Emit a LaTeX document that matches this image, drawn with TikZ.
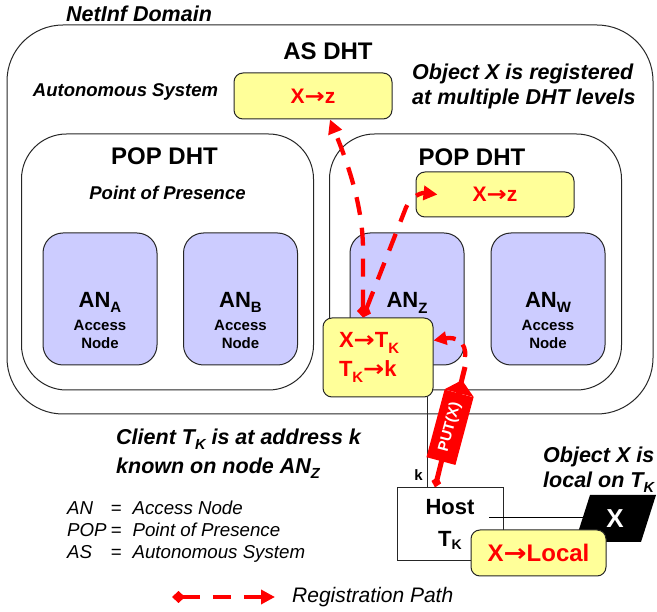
\documentclass[tikz,border=0pt]{standalone}
\usepackage{fontspec}
\setmainfont{Liberation Sans}
\newfontfamily\symfont{DejaVu Sans}
\usetikzlibrary{arrows.meta, positioning, calc}
\definecolor{regred}{HTML}{FF0000}
\definecolor{dhtyellow}{HTML}{FFFF99}
\definecolor{anlilac}{HTML}{CCCCFF}
\definecolor{frameline}{HTML}{262626}
\newcommand{\lowsub}[1]{\raisebox{-0.25em}{\scalebox{0.68}{#1}}}
\newcommand{\mapto}{\scalebox{1.15}[1]{\symfont\bfseries →}}

\begin{document}
\begin{tikzpicture}[x=1pt, y=-1pt,
  domainframe/.style={draw=frameline, line width=1pt, rounded corners=56pt, inner sep=0pt, minimum width=646pt, minimum height=389pt},
  popframe/.style={draw=frameline, line width=1pt, rounded corners=45pt, inner sep=0pt, minimum width=292pt, minimum height=256pt},
  anbox/.style={draw=frameline, fill=anlilac, line width=1pt, rounded corners=20pt, inner sep=0pt, minimum width=114pt, minimum height=132pt},
  anlabel/.style={align=center, inner sep=0pt, font=\bfseries\fontsize{15}{18}\selectfont},
  dhtentry/.style={draw=frameline, fill=dhtyellow, line width=1pt, rounded corners=9pt, inner sep=0pt, text=regred, font=\bfseries\fontsize{21}{29}\selectfont},
  title/.style={font=\bfseries\fontsize{24}{28}\selectfont, inner sep=0pt},
  remark/.style={font=\bfseries\itshape\fontsize{21.5}{25}\selectfont, align=left, inner sep=0pt},
  subtitle/.style={font=\bfseries\itshape\fontsize{18.5}{22}\selectfont, inner sep=0pt},
  legtext/.style={font=\itshape\fontsize{18.7}{22}\selectfont, inner sep=0pt},
  regline/.style={regred, line width=4.3pt, dash pattern=on 18pt off 13pt},
  regpath/.style={regline, {Diamond[length=13pt,width=12pt]}-{Triangle[length=14pt,width=14pt]}},
  regarc/.style={regline, dash pattern=on 13pt off 9pt, -{Triangle[length=13pt,width=13pt]}},
  putbox/.style={fill=regred, text=white, font=\bfseries\fontsize{15}{15}\selectfont, inner sep=0pt, minimum width=70pt, minimum height=30pt, rotate=75},
]
  \useasboundingbox (0,0) rectangle (657,612);

  % Domains
  \node[domainframe] (domain) at (330,219.5) {};
  \node[popframe] (popL) at (167.5,262) {};
  \node[popframe] (popR) at (475.5,262) {};

  % Access nodes
  \foreach \an/\cx/\tag in {anA/100/A, anB/240.5/B, anW/548/W} {
    \node[anbox] (\an) at (\cx,299) {};
    \node[anlabel] (\an label) at ([yshift=-21.5pt]\an.center) {{\fontsize{22}{22}\selectfont AN\lowsub{\tag}}\\[5pt]Access\\Node};
  }
  \node[anbox] (anZ) at (407,299) {};
  \node[anlabel, font=\bfseries\fontsize{22}{22}\selectfont] (anZlabel) at ([yshift=-4pt]anZ.center) {AN\lowsub{Z}};

  % DHT entries
  \node[dhtentry, minimum width=158pt, minimum height=46pt] (asbox) at (313,96) {X\mapto z};
  \node[dhtentry, minimum width=158pt, minimum height=45pt] (popbox) at (495,194.5) {X\mapto z};
  \node[dhtentry, minimum width=110pt, minimum height=79pt, text width=78pt, align=left, font=\bfseries\fontsize{22}{29}\selectfont] (xtk) at (378,357.5) {X\mapto T\lowsub{K}\\T\lowsub{K}\mapto k};

  % Host and local object
  \node[draw=frameline, fill=white, line width=1pt, minimum width=106pt, minimum height=73pt, inner sep=0pt, align=center, font=\bfseries\fontsize{22}{32}\selectfont] (host) at (450,524.5) {Host\\T\raisebox{-3pt}{\fontsize{14}{14}\selectfont K}};
  \coordinate (hostport) at (489,517);
  \coordinate (xslot) at (615,518.5);
  \draw[line width=0.9pt] (hostport) -- (hostport -| xslot);
  \fill[black] (590,495) -- (656,495) -- (641,542) -- (575,542) -- cycle;
  \node[font=\bfseries\fontsize{26}{26}\selectfont, text=white, inner sep=0pt] (xmark) at (xslot) {X};
  \node[dhtentry, minimum width=135pt, minimum height=46pt, font=\bfseries\fontsize{24}{24}\selectfont] (xlocal) at (538.5,553) {X\mapto Local};

  % Access link
  \draw[frameline, line width=0.9pt] ([xshift=49pt]xtk.south) -- ([xshift=-23pt]host.north);
  \node[font=\bfseries\fontsize{15}{15}\selectfont, inner sep=0pt] (klabel) at (418.5,475) {k};

  % PUT message
  \coordinate (puttop) at (465,367);
  \draw[regred, line width=5pt, -{Diamond[length=11pt,width=10pt]}] (puttop) -- ([xshift=-15pt]host.north);
  \node[putbox] (putx) at ($(puttop)!0.5!([xshift=-15pt]host.north)$) {PUT(X)};
  \fill[regred] (putx.north east) -- ($(putx.east)!0.5!(puttop)$) -- (putx.south east) -- cycle;
  \draw[regarc] ([yshift=10pt]puttop) .. controls +(2,-15) and +(22,-4) .. ([yshift=17pt]xtk.east);

  % Registration paths
  \draw[regpath] ([xshift=-15pt]xtk.north) -- ++(0,-68) .. controls +(0,-50) and +(12,30) .. ([xshift=17pt]asbox.south);
  \draw[regpath] ([xshift=-15pt]xtk.north) -- ++(43,-110) .. controls +(4,-9) and +(-18,-2) .. ([xshift=22pt]popbox.west);

  % Labels
  \node[font=\bfseries\itshape\fontsize{21.5}{24}\selectfont, inner sep=0pt, anchor=west] (netinf) at (66,14) {NetInf Domain};
  \node[title] (asdht) at (328,51) {AS DHT};
  \node[title] (popLdht) at (164.5,156) {POP DHT};
  \node[title] (popRdht) at (472,157) {POP DHT};
  \node[subtitle] (asname) at (125.5,92) {Autonomous System};
  \node[subtitle] (popname) at (167.5,193) {Point of Presence};
  \node[remark, anchor=west] (multinote) at (412,86) {Object X is registered\\at multiple DHT levels};
  \node[remark, anchor=west] (clientnote) at (116,454) {Client T\lowsub{K} is at address k\\[4pt]known on node AN\lowsub{Z}};
  \node[remark, anchor=west] (localnote) at (543,470) {Object X is\\local on T\lowsub{K}};

  % Legend
  \node[legtext, anchor=west] (abbrev) at (67,532) {\begin{tabular}{@{}l@{\hspace{4pt}}l@{\hspace{11pt}}l@{}}AN & = & Access Node\\POP & = & Point of Presence\\AS & = & Autonomous System\end{tabular}};
  \coordinate (legstart) at (172,597);
  \coordinate (legtip) at (275,597);
  \draw[regpath] (legstart) -- (legtip);
  \node[legtext, font=\itshape\fontsize{21}{24}\selectfont, anchor=west] (legreg) at (292,597) {Registration Path};
\end{tikzpicture}
\end{document}
